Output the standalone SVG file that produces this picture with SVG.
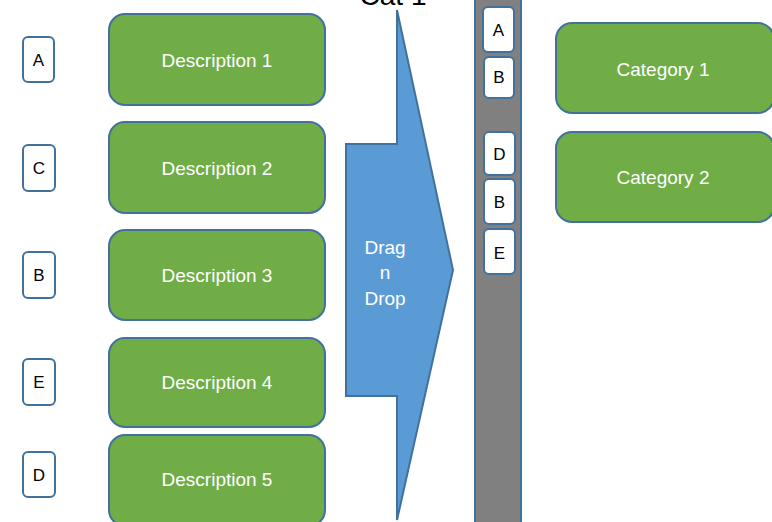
<svg xmlns="http://www.w3.org/2000/svg" width="772" height="522" viewBox="0 0 772 522">
<style>
.desc{fill:#70ad47;stroke:#41719c;stroke-width:2}
.tag{fill:#ffffff;stroke:#41719c;stroke-width:2}
.wt{fill:#ffffff;font-family:"Liberation Sans",Arial,sans-serif;font-size:19px;text-anchor:middle;dominant-baseline:central}
.bt{fill:#000000;font-family:"Liberation Sans",Arial,sans-serif;font-size:17px;text-anchor:middle;dominant-baseline:central}
</style>
<rect width="772" height="522" fill="#ffffff"/>
<text x="393" y="5" style="fill:#000;font-family:'Liberation Sans',Arial,sans-serif;font-size:28px;text-anchor:middle">Cat 1</text>

<g id="bar">
<rect x="475" y="-5" width="46" height="535" fill="#808080" stroke="#41719c" stroke-width="2"/>
</g>

<g id="arrow">
<polygon points="346,144 397,144 397,10 453,270 397,520 397,396 346,396" fill="#5b9bd5" stroke="#41719c" stroke-width="2"/>
<text class="wt" x="385" y="247">Drag</text>
<text class="wt" x="385" y="272">n</text>
<text class="wt" x="385" y="298">Drop</text>
</g>

<g id="tagA"><rect class="tag" x="23" y="37" width="31" height="45" rx="5"/><text class="bt" x="38.5" y="60">A</text></g>
<g id="tagC"><rect class="tag" x="23" y="145" width="32" height="46" rx="5"/><text class="bt" x="39" y="168">C</text></g>
<g id="tagB"><rect class="tag" x="23" y="252" width="32" height="46" rx="5"/><text class="bt" x="39" y="275">B</text></g>
<g id="tagE"><rect class="tag" x="23" y="359" width="32" height="46" rx="5"/><text class="bt" x="39" y="382">E</text></g>
<g id="tagD"><rect class="tag" x="23" y="452" width="32" height="45" rx="5"/><text class="bt" x="39" y="475">D</text></g>

<g id="desc1"><rect class="desc" x="109" y="14" width="216" height="91" rx="16"/><text class="wt" x="217" y="60">Description 1</text></g>
<g id="desc2"><rect class="desc" x="109" y="122" width="216" height="91" rx="16"/><text class="wt" x="217" y="168">Description 2</text></g>
<g id="desc3"><rect class="desc" x="109" y="230" width="216" height="90" rx="16"/><text class="wt" x="217" y="275">Description 3</text></g>
<g id="desc4"><rect class="desc" x="109" y="338" width="216" height="89" rx="16"/><text class="wt" x="217" y="382">Description 4</text></g>
<g id="desc5"><rect class="desc" x="109" y="435" width="216" height="91" rx="16"/><text class="wt" x="217" y="479">Description 5</text></g>

<g id="barA"><rect class="tag" x="483" y="7" width="31" height="45" rx="5"/><text class="bt" x="498.5" y="30">A</text></g>
<g id="barB1"><rect class="tag" x="484" y="57" width="30" height="41" rx="5"/><text class="bt" x="499" y="77">B</text></g>
<g id="barD"><rect class="tag" x="484" y="132" width="31" height="43" rx="5"/><text class="bt" x="499.5" y="154">D</text></g>
<g id="barB2"><rect class="tag" x="484" y="179" width="31" height="45" rx="5"/><text class="bt" x="499.5" y="202">B</text></g>
<g id="barE"><rect class="tag" x="484" y="229" width="31" height="45" rx="5"/><text class="bt" x="499.5" y="253">E</text></g>

<g id="cat1"><rect class="desc" x="556" y="23" width="218" height="90" rx="16"/><text class="wt" x="663" y="69">Category 1</text></g>
<g id="cat2"><rect class="desc" x="556" y="132" width="218" height="90" rx="16"/><text class="wt" x="663" y="177">Category 2</text></g>

<g id="connectors"></g>
</svg>
